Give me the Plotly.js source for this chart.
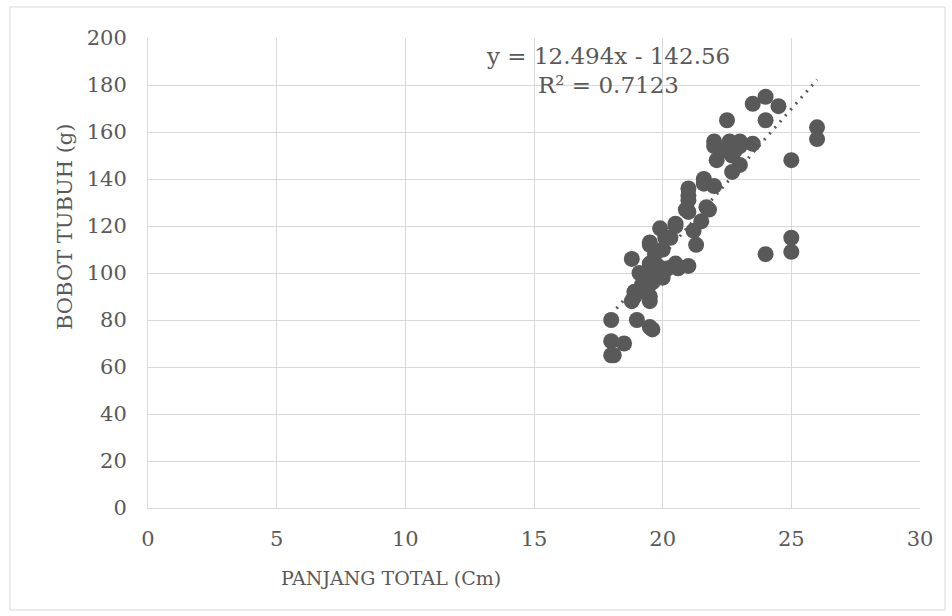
<!DOCTYPE html>
<html>
<head>
<meta charset="utf-8">
<script src="https://cdn.plot.ly/plotly-3.0.1.min.js"></script>
<style>html,body{margin:0;padding:0;background:#fff;}#chart{width:952px;height:616px;}</style>
</head>
<body>
<div id="chart"></div>
<script>
// Panjang total (cm)
const panjang = [
  24, 23.5, 24.5, 24, 22.5, 26, 26, 25, 25, 25, 24,
  22, 22, 22.6, 23, 23.5, 23, 22.1, 22.7, 23, 22.7, 22.3, 22.8,
  21.6, 21.6, 21, 22, 21, 21.7, 21, 21.8, 21.5, 21, 20.5, 19.9, 21.2, 21.3, 20.3, 20.9, 20.5, 20.1, 19.5, 18.8, 19.5, 20, 19.7,
  19.5, 19.8, 20, 20.5, 21, 20.2, 20.6, 19.1, 19.6, 20, 19.5, 18.9, 18.9, 19.2, 19.5, 19.3, 18.8, 19.5, 19.4,
  18, 19, 19.5, 19.6, 18, 18.5, 18, 18.1
];
// Bobot tubuh (g)
const bobot = [
  175, 172, 171, 165, 165, 162, 157, 148, 115, 109, 108,
  156, 154, 156, 156, 155, 154, 148, 150, 146, 143, 152, 152,
  140, 138, 136, 137, 131, 128, 126, 127, 122, 133, 121, 119, 118, 112, 115, 127, 120, 115, 113, 106, 112, 110, 108,
  104, 103, 101, 104, 103, 102, 102, 100, 96, 98, 90, 92, 90, 95, 100, 97, 88, 88, 93,
  80, 80, 77, 76, 71, 70, 65, 65
];
// Linear trendline endpoints as drawn (y = 12.494x - 142.56)
const trendX = [18, 26];
const trendY = [82.3, 182.3];
const xTicks = [0, 5, 10, 15, 20, 25, 30];
const yTicks = [0, 20, 40, 60, 80, 100, 120, 140, 160, 180, 200];
const eqText = "y = 12.494x - 142.56";
const r2Text = "R² = 0.7123";
const xTitle = "PANJANG TOTAL (Cm)";
const yTitle = "BOBOT TUBUH (g)";

const FONT = "DejaVu Serif";
const TXT = "#595959";
const GRID = "#d9d9d9";

const traces = [
  {
    type: "scatter", mode: "markers", x: panjang, y: bobot,
    marker: {color: "#595959", size: 16, line: {width: 0}},
    hoverinfo: "x+y", showlegend: false
  },
  {
    type: "scatter", mode: "lines", x: trendX, y: trendY,
    line: {color: "#595959", width: 3, dash: "2px,6px"},
    hoverinfo: "skip", showlegend: false
  }
];

const layout = {
  width: 952, height: 616,
  margin: {l: 148, r: 32, t: 38, b: 108},
  paper_bgcolor: "#ffffff", plot_bgcolor: "#ffffff",
  font: {family: FONT, color: TXT, size: 17},
  showlegend: false,
  xaxis: {
    range: [0, 30], tickvals: xTicks, ticktext: xTicks.map(String),
    showgrid: true, gridcolor: GRID, gridwidth: 1,
    showline: true, linecolor: GRID, linewidth: 1, mirror: false,
    zeroline: false, ticks: "", ticklen: 0, ticklabelstandoff: 12,
    tickfont: {family: FONT, size: 21, color: TXT}
  },
  yaxis: {
    range: [0, 200], tickvals: yTicks, ticktext: yTicks.map(String),
    showgrid: true, gridcolor: GRID, gridwidth: 1,
    showline: true, linecolor: GRID, linewidth: 1,
    zeroline: false, ticks: "", ticklen: 0, ticklabelstandoff: 16,
    tickfont: {family: FONT, size: 21, color: TXT}
  },
  annotations: [
    {xref: "x", yref: "y", x: 17.88, y: 192.3, text: eqText, showarrow: false,
     xanchor: "center", yanchor: "middle", font: {family: FONT, size: 23, color: TXT}},
    {xref: "x", yref: "y", x: 17.88, y: 180, text: r2Text, showarrow: false,
     xanchor: "center", yanchor: "middle", font: {family: FONT, size: 23, color: TXT}},
    {xref: "paper", yref: "paper", x: 0.315, y: -0.149, text: xTitle, showarrow: false,
     xanchor: "center", yanchor: "middle", font: {family: FONT, size: 19, color: TXT}},
    {xref: "paper", yref: "paper", x: -0.1075, y: 0.598, text: yTitle, showarrow: false, textangle: -90,
     xanchor: "center", yanchor: "middle", font: {family: FONT, size: 21, color: TXT}}
  ],
  shapes: [
    {type: "rect", xref: "paper", yref: "paper", x0: -0.1788, x1: 1.0324, y0: -0.217, y1: 1.066,
     line: {color: GRID, width: 1}, fillcolor: "rgba(0,0,0,0)", layer: "below"}
  ]
};

Plotly.newPlot("chart", traces, layout, {staticPlot: true, displayModeBar: false});
</script>
</body>
</html>
